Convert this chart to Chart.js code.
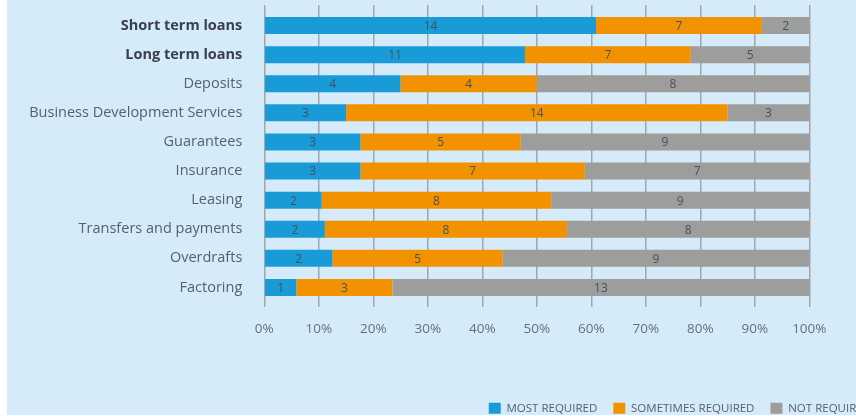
<!DOCTYPE html>
<html>
<head>
<meta charset="utf-8">
<script src="https://cdn.jsdelivr.net/npm/chart.js@4"></script>
<style>
  html, body { margin: 0; padding: 0; background: #fff; overflow: hidden; }
  #wrap { position: absolute; left: 7px; top: 0; width: 880px; height: 415px; background: #d5ebfa; overflow: hidden; }
</style>
</head>
<body>
<div id="wrap"><canvas id="reqChart" width="880" height="424"></canvas></div>
<script>
// services and how many respondents put them in each group
const services = ['Short term loans', 'Long term loans', 'Deposits', 'Business Development Services',
  'Guarantees', 'Insurance', 'Leasing', 'Transfers and payments', 'Overdrafts', 'Factoring'];
const mostRequired      = [14, 11, 4, 3, 3, 3, 2, 2, 2, 1];
const sometimesRequired = [7, 7, 4, 14, 5, 7, 8, 8, 5, 3];
const notRequired       = [2, 5, 8, 3, 9, 7, 9, 8, 9, 13];
const percentTicks = [0, 10, 20, 30, 40, 50, 60, 70, 80, 90, 100];

const FONT = '"Open Sans", sans-serif';
const gridColor = '#a2a6aa';

// share of each row, so the bars add up to 100%
function share(arr) {
  return arr.map(function (v, i) {
    return v / (mostRequired[i] + sometimesRequired[i] + notRequired[i]) * 100;
  });
}

// count written in the middle of each segment
const segmentCounts = {
  id: 'segmentCounts',
  afterDatasetsDraw(chart) {
    const ctx = chart.ctx;
    ctx.save();
    ctx.font = '12px ' + FONT;
    ctx.fillStyle = '#46505e';
    ctx.textAlign = 'center';
    ctx.textBaseline = 'middle';
    chart.data.datasets.forEach(function (ds, di) {
      chart.getDatasetMeta(di).data.forEach(function (bar, i) {
        const p = bar.getCenterPoint();
        ctx.fillText(String(ds.counts[i]), p.x, p.y + 1);
      });
    });
    ctx.restore();
  }
};

new Chart(document.getElementById('reqChart'), {
  type: 'bar',
  data: {
    labels: services,
    datasets: [
      { label: 'MOST REQUIRED', data: share(mostRequired), counts: mostRequired,
        backgroundColor: '#189bd7', borderWidth: 0, xAxisID: 'x', yAxisID: 'y' },
      { label: 'SOMETIMES REQUIRED', data: share(sometimesRequired), counts: sometimesRequired,
        backgroundColor: '#f39200', borderWidth: 0, xAxisID: 'x', yAxisID: 'y' },
      { label: 'NOT REQUIRED', data: share(notRequired), counts: notRequired,
        backgroundColor: '#9d9d9c', borderWidth: 0, xAxisID: 'x', yAxisID: 'y' }
    ]
  },
  options: {
    indexAxis: 'y',
    responsive: false,
    animation: false,
    devicePixelRatio: 1,
    layout: { padding: { top: 5, bottom: 0, left: 0, right: 0 } },
    datasets: { bar: { categoryPercentage: 1, barPercentage: 0.585 } },
    scales: {
      x: {
        stacked: true,
        min: 0, max: 100,
        afterBuildTicks: function (s) { s.ticks = percentTicks.map(function (v) { return { value: v }; }); },
        ticks: {
          padding: 14,
          color: '#66707c',
          font: { family: FONT, size: 13.5 },
          callback: function (v) { return v + '%'; }
        },
        grid: { color: gridColor, lineWidth: 1.5, tickLength: 5 },
        border: { display: false },
        afterFit: function (s) { s.height = 84.5; }
      },
      x2: {
        type: 'linear',
        position: 'top',
        min: 0, max: 100,
        afterBuildTicks: function (s) { s.ticks = percentTicks.map(function (v) { return { value: v }; }); },
        ticks: { display: false },
        grid: { color: gridColor, lineWidth: 1.5, tickLength: 6, drawOnChartArea: false },
        border: { display: false }
      },
      y: {
        stacked: true,
        ticks: {
          padding: 0,
          color: function (c) { return c.index < 2 ? '#3b404a' : '#56606d'; },
          font: function (c) {
            return { family: FONT, size: 14.5, weight: c.index < 2 ? 'bold' : 'normal' };
          }
        },
        grid: { display: false, drawTicks: true, tickLength: 22 },
        border: { display: false },
        afterFit: function (s) { s.width = 257.3; }
      },
      yRight: {
        type: 'linear',
        position: 'right',
        ticks: { display: false },
        grid: { display: false, drawTicks: false },
        border: { display: false },
        afterFit: function (s) { s.width = 77.7; }
      }
    },
    plugins: {
      legend: {
        position: 'bottom',
        align: 'end',
        labels: {
          boxWidth: 12,
          boxHeight: 11,
          padding: 16,
          color: '#56606c',
          font: { family: FONT, size: 11.5 }
        }
      },
      tooltip: { enabled: false }
    }
  },
  plugins: [segmentCounts]
});
</script>
</body>
</html>
